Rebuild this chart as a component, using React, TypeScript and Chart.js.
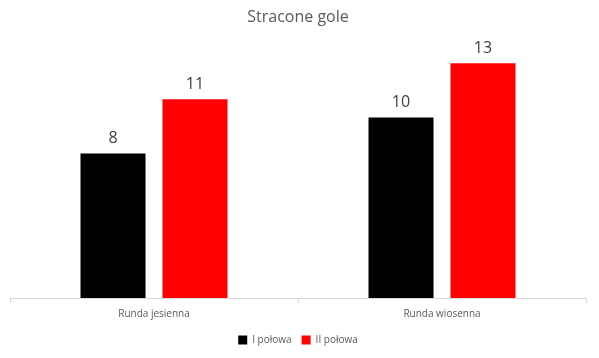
import React, { useEffect, useRef } from "react";
import { Chart, registerables } from "chart.js";

Chart.register(...registerables);

const categories = ["Runda jesienna", "Runda wiosenna"];
const firstHalf = [8, 10];
const secondHalf = [11, 13];
const seriesNames = ["I połowa", "II połowa"];
const chartTitle = "Stracone gole";

const FONT = "'Open Sans', 'Liberation Sans', sans-serif";

const valueLabels = {
  id: "valueLabels",
  afterDatasetsDraw(chart: any) {
    const ctx = chart.ctx;
    ctx.save();
    ctx.font = `16px ${FONT}`;
    ctx.fillStyle = "#404040";
    ctx.textAlign = "center";
    ctx.textBaseline = "bottom";
    chart.data.datasets.forEach((ds: any, i: number) => {
      const meta = chart.getDatasetMeta(i);
      meta.data.forEach((bar: any, j: number) => {
        ctx.fillText(String(ds.data[j]), bar.x, bar.y - 7);
      });
    });
    ctx.restore();
  },
};

export default function App() {
  const ref = useRef<HTMLCanvasElement>(null);
  useEffect(() => {
    const chart = new Chart(ref.current!, {
      type: "bar",
      data: {
        labels: categories,
        datasets: [
          { label: seriesNames[0], data: firstHalf, backgroundColor: "#000000" },
          { label: seriesNames[1], data: secondHalf, backgroundColor: "#ff0000" },
        ],
      },
      options: {
        responsive: false,
        animation: false,
        layout: { padding: { left: 10, right: 13, top: 0, bottom: 3 } },
        datasets: {
          bar: { categoryPercentage: 0.5694, barPercentage: 0.793 },
        } as any,
        scales: {
          x: {
            grid: {
              display: true,
              offset: true,
              drawOnChartArea: false,
              drawTicks: true,
              tickLength: 5,
              color: "#d9d9d9",
            },
            border: { display: true, color: "#d9d9d9" },
            ticks: { color: "#595959", font: { family: FONT, size: 10 }, padding: 5 },
          },
          y: { display: false, min: 0, max: 14 },
        },
        plugins: {
          title: {
            display: true,
            text: chartTitle,
            color: "#595959",
            font: { family: FONT, size: 16, weight: "normal" },
            padding: { top: 8, bottom: 18 },
          },
          legend: {
            position: "bottom",
            labels: {
              boxWidth: 9,
              boxHeight: 9,
              color: "#595959",
              font: { family: FONT, size: 10 },
              padding: 10,
            },
          },
          tooltip: { enabled: false },
        },
      },
      plugins: [valueLabels],
    });
    return () => chart.destroy();
  }, []);
  return (
    <div style={{ position: "fixed", left: 0, top: 0, width: 599, height: 358, background: "#fff" }}>
      <canvas ref={ref} width={599} height={358} />
    </div>
  );
}
